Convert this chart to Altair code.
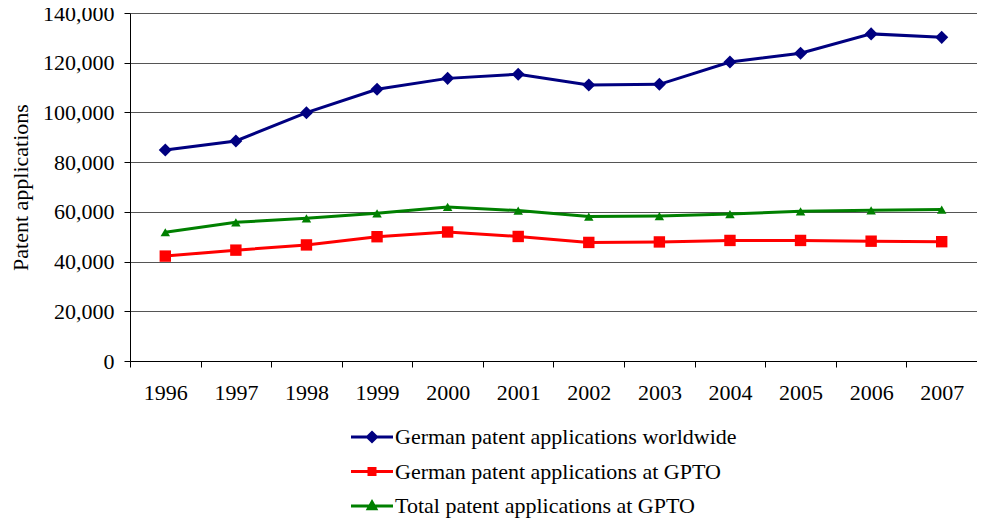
import altair as alt
import pandas as pd

years = [str(y) for y in range(1996, 2008)]
worldwide = [84900, 88500, 99900, 109300, 113700, 115400, 111000, 111300, 120300, 123800, 131600, 130200]
german_gpto = [42200, 44600, 46700, 50000, 51900, 50100, 47700, 47900, 48500, 48500, 48200, 48000]
total_gpto = [51800, 55800, 57400, 59400, 62000, 60500, 58100, 58300, 59100, 60200, 60600, 60900]

series = ["German patent applications worldwide",
          "German patent applications at GPTO",
          "Total patent applications at GPTO"]
codes = ["a", "b", "c"]
colors = ["#000080", "#FF0000", "#008000"]
shapes = ["diamond", "square", "triangle-up"]
sizes = [170, 90, 100]
# legend symbols: a line with the series marker in the middle (unit path coordinates)
legend_shapes = [
    "M-3.5,0H3.5M0,-0.75L0.75,0L0,0.75L-0.75,0Z",
    "M-3.5,0H3.5M-0.5,-0.5H0.5V0.5H-0.5Z",
    "M-3.5,0H3.5M0,-0.65L0.62,0.45H-0.62Z",
]

rows = []
for name, code, vals in zip(series, codes, [worldwide, german_gpto, total_gpto]):
    for yr, v in zip(years, vals):
        rows.append({"year": yr, "value": v, "series": name, "code": code})
df = pd.DataFrame(rows)

FONT = "Liberation Serif"
FS = 22

x = alt.X("year:O",
          scale=alt.Scale(type="band", paddingInner=0, paddingOuter=0),
          axis=alt.Axis(title=None, tickBand="extent", tickSize=6, labelPadding=15,
                        labelAngle=0, domainColor="black", tickColor="black",
                        labelFontSize=FS, labelColor="black", labelFont=FONT, grid=False))
y = alt.Y("value:Q",
          scale=alt.Scale(domain=[0, 140000], nice=False),
          axis=alt.Axis(title="Patent applications", values=list(range(0, 140001, 20000)),
                        format=",.0f", tickSize=6, labelPadding=10, domainColor="black",
                        tickColor="black", gridColor="#555555", gridWidth=1,
                        labelFontSize=FS, labelColor="black", labelFont=FONT,
                        titleFontSize=FS, titleFont=FONT, titleFontWeight="normal",
                        titleColor="black", titlePadding=10))

lines = alt.Chart(df).mark_line(strokeWidth=3).encode(
    x=x, y=y,
    stroke=alt.Stroke("code:N", scale=alt.Scale(domain=codes, range=colors), legend=None),
    order=alt.Order("year:O"),
)

points = alt.Chart(df).mark_point(filled=True, opacity=1).encode(
    x=x, y=y,
    fill=alt.Fill("code:N", scale=alt.Scale(domain=codes, range=colors), legend=None),
    shape=alt.Shape("code:N", scale=alt.Scale(domain=codes, range=shapes), legend=None),
    size=alt.Size("code:N", scale=alt.Scale(domain=codes, range=sizes), legend=None),
)

leg = alt.Legend(title=None, orient="none", legendX=231, legendY=413,
                 symbolSize=144, symbolStrokeWidth=3, symbolOpacity=1,
                 labelFontSize=FS, labelFont=FONT, labelColor="black", rowPadding=12.5,
                 labelOffset=12, labelLimit=600, padding=0)

legend_layer = alt.Chart(df).transform_filter("false").mark_point(
    filled=True, strokeWidth=3, opacity=1).encode(
    x=x, y=y,
    shape=alt.Shape("series:N", scale=alt.Scale(domain=series, range=legend_shapes), legend=leg),
    fill=alt.Fill("series:N", scale=alt.Scale(domain=series, range=colors), legend=leg),
    stroke=alt.Stroke("series:N", scale=alt.Scale(domain=series, range=colors), legend=leg),
)

chart = alt.layer(lines, points, legend_layer).resolve_scale(
    fill="independent", shape="independent", stroke="independent", size="independent"
).resolve_legend(
    fill="independent", shape="independent", stroke="independent", size="independent"
).properties(
    width=847, height=348,
    autosize=alt.AutoSizeParams(type="none"),
    padding={"left": 122, "top": 5, "right": 0, "bottom": 160},
).configure_view(stroke=None).configure(font=FONT)

chart.save("out.html", embed_options={"renderer": "svg", "actions": False})
